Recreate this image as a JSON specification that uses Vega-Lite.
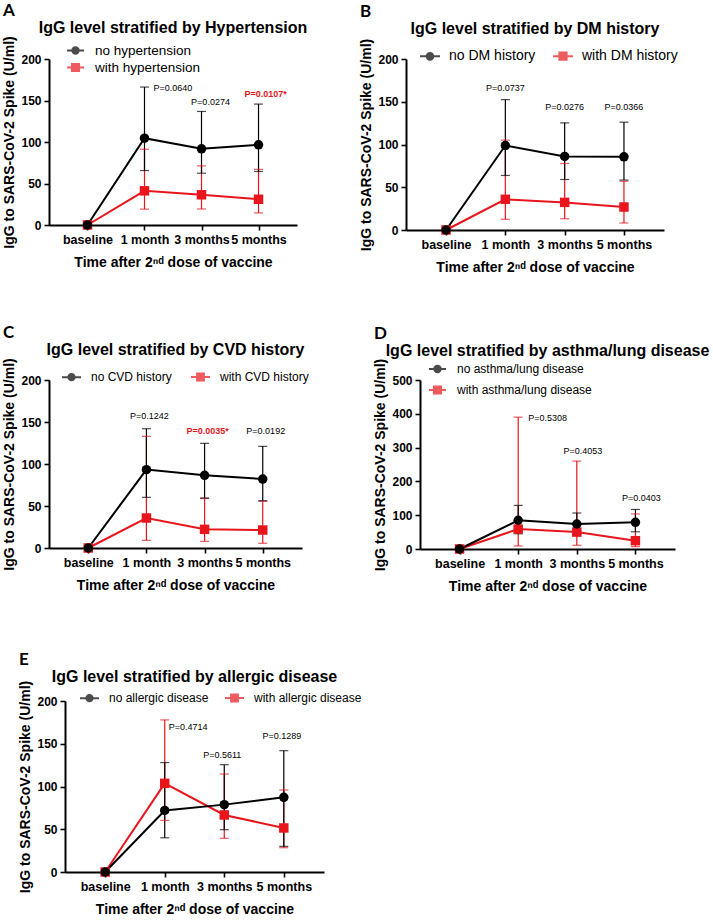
{
"$schema": "https://vega.github.io/schema/vega-lite/v6.json",
"background": "white",
"padding": {"left": 2, "top": 1, "right": 2, "bottom": 0},
"datasets": {
"A": [
{"group":"with hypertension","time":"baseline","mean":0,"lo":null,"hi":null},
{"group":"with hypertension","time":"1 month","mean":41.2,"lo":19.1,"hi":91.3},
{"group":"with hypertension","time":"3 months","mean":36.4,"lo":19.3,"hi":71.2},
{"group":"with hypertension","time":"5 months","mean":31,"lo":14.5,"hi":67},
{"group":"no hypertension","time":"baseline","mean":0,"lo":null,"hi":null},
{"group":"no hypertension","time":"1 month","mean":104.6,"lo":65.6,"hi":166.2},
{"group":"no hypertension","time":"3 months","mean":91.8,"lo":62.4,"hi":136.8},
{"group":"no hypertension","time":"5 months","mean":96.6,"lo":64.5,"hi":145.7}
],
"pA": [
{"time":"1 month","y":165,"label":"P=0.0640","sig":false},
{"time":"3 months","y":148,"label":"P=0.0274","sig":false},
{"time":"5 months","y":158,"label":"P=0.0107*","sig":true}
],
"B": [
{"group":"with DM history","time":"baseline","mean":0,"lo":null,"hi":null},
{"group":"with DM history","time":"1 month","mean":35.9,"lo":12.5,"hi":105.1},
{"group":"with DM history","time":"3 months","mean":32.3,"lo":13.2,"hi":77.8},
{"group":"with DM history","time":"5 months","mean":26.9,"lo":8.2,"hi":57},
{"group":"no DM history","time":"baseline","mean":0,"lo":null,"hi":null},
{"group":"no DM history","time":"1 month","mean":98.8,"lo":63.8,"hi":152.5},
{"group":"no DM history","time":"3 months","mean":86,"lo":59.1,"hi":125.3},
{"group":"no DM history","time":"5 months","mean":85.6,"lo":58.4,"hi":126.1}
],
"pB": [
{"time":"1 month","y":166,"label":"P=0.0737","sig":false},
{"time":"3 months","y":144,"label":"P=0.0276","sig":false},
{"time":"5 months","y":144,"label":"P=0.0366","sig":false}
],
"C": [
{"group":"with CVD history","time":"baseline","mean":0,"lo":null,"hi":null},
{"group":"with CVD history","time":"1 month","mean":35.7,"lo":9.1,"hi":132.9},
{"group":"with CVD history","time":"3 months","mean":22.2,"lo":7.9,"hi":59},
{"group":"with CVD history","time":"5 months","mean":21.4,"lo":5.6,"hi":55.6},
{"group":"no CVD history","time":"baseline","mean":0,"lo":null,"hi":null},
{"group":"no CVD history","time":"1 month","mean":93.3,"lo":60.3,"hi":142},
{"group":"no CVD history","time":"3 months","mean":86.5,"lo":59.5,"hi":124.6},
{"group":"no CVD history","time":"5 months","mean":82.1,"lo":56.3,"hi":121}
],
"pC": [
{"time":"1 month","y":157,"label":"P=0.1242","sig":false},
{"time":"3 months","y":139,"label":"P=0.0035*","sig":true},
{"time":"5 months","y":139,"label":"P=0.0192","sig":false}
],
"D": [
{"group":"with asthma/lung disease","time":"baseline","mean":0,"lo":null,"hi":null},
{"group":"with asthma/lung disease","time":"1 month","mean":59,"lo":9,"hi":390},
{"group":"with asthma/lung disease","time":"3 months","mean":50,"lo":11,"hi":260},
{"group":"with asthma/lung disease","time":"5 months","mean":24.6,"lo":7,"hi":103.6},
{"group":"no asthma/lung disease","time":"baseline","mean":0,"lo":null,"hi":null},
{"group":"no asthma/lung disease","time":"1 month","mean":85,"lo":45,"hi":129},
{"group":"no asthma/lung disease","time":"3 months","mean":74,"lo":43,"hi":106.5},
{"group":"no asthma/lung disease","time":"5 months","mean":79,"lo":51,"hi":117}
],
"pD": [
{"time":"1 month","y":388,"label":"P=0.5308","sig":false},
{"time":"3 months","y":290,"label":"P=0.4053","sig":false},
{"time":"5 months","y":151,"label":"P=0.0403","sig":false}
],
"E": [
{"group":"with allergic disease","time":"baseline","mean":0,"lo":null,"hi":null},
{"group":"with allergic disease","time":"1 month","mean":103.7,"lo":60.4,"hi":177.9},
{"group":"with allergic disease","time":"3 months","mean":66.7,"lo":39.4,"hi":114.6},
{"group":"with allergic disease","time":"5 months","mean":51.5,"lo":28.4,"hi":95.9},
{"group":"no allergic disease","time":"baseline","mean":0,"lo":null,"hi":null},
{"group":"no allergic disease","time":"1 month","mean":72,"lo":40,"hi":128},
{"group":"no allergic disease","time":"3 months","mean":78.8,"lo":49.5,"hi":125.5},
{"group":"no allergic disease","time":"5 months","mean":87.3,"lo":30,"hi":141.9}
],
"pE": [
{"time":"1 month","y":170,"label":"P=0.4714","sig":false},
{"time":"3 months","y":137,"label":"P=0.5611","sig":false},
{"time":"5 months","y":159,"label":"P=0.1289","sig":false}
],
"empty": []
},
"resolve": {"scale": {"color": "independent", "shape": "independent", "stroke": "independent"}},
"spacing": 57,
"vconcat": [
{
"resolve": {"scale": {"color": "independent", "shape": "independent", "stroke": "independent"}},
"spacing": 48,
"vconcat": [
{
"resolve": {"scale": {"color": "independent", "shape": "independent", "stroke": "independent"}},
"spacing": 51,
"hconcat": [
{
"title": {"text": "A", "anchor": "start", "font": "Lato", "fontSize": 17, "fontWeight": "bold", "offset": 0},
"resolve": {"scale": {"color": "independent", "shape": "independent", "stroke": "independent"}},
"vconcat": [{
"width": 248, "height": 166,
"title": {"text": "IgG level stratified by Hypertension", "frame": "group", "offset": 0},
"data": {"name": "A"},
"layer": [
{"mark": {"type": "rule", "strokeWidth": 1.2},
 "encoding": {
  "x": {"field": "time", "type": "ordinal", "title": "Time after 2ⁿᵈ dose of vaccine", "scale": {"type": "point", "domain": ["baseline","1 month","3 months","5 months"], "padding": 0.675}},
  "y": {"field": "lo", "type": "quantitative", "title": "IgG to SARS-CoV-2 Spike (U/ml)", "scale": {"domain": [0,200], "nice": false}, "axis": {"values": [0,50,100,150,200]}},
  "y2": {"field": "hi"},
  "color": {"field": "group", "type": "nominal", "scale": {"domain": ["no hypertension","with hypertension"], "range": ["black","#e8161c"]}}}},
{"mark": {"type": "tick", "orient": "horizontal", "size": 9, "thickness": 1.2},
 "encoding": {
  "x": {"field": "time", "type": "ordinal", "title": "Time after 2ⁿᵈ dose of vaccine"},
  "y": {"field": "hi", "type": "quantitative", "title": "IgG to SARS-CoV-2 Spike (U/ml)", "axis": {"values": [0,50,100,150,200]}},
  "color": {"field": "group", "type": "nominal"}}},
{"mark": {"type": "tick", "orient": "horizontal", "size": 9, "thickness": 1.2},
 "encoding": {
  "x": {"field": "time", "type": "ordinal", "title": "Time after 2ⁿᵈ dose of vaccine"},
  "y": {"field": "lo", "type": "quantitative", "title": "IgG to SARS-CoV-2 Spike (U/ml)", "axis": {"values": [0,50,100,150,200]}},
  "color": {"field": "group", "type": "nominal"}}},
{"mark": {"type": "line", "strokeWidth": 2},
 "encoding": {
  "x": {"field": "time", "type": "ordinal", "title": "Time after 2ⁿᵈ dose of vaccine"},
  "y": {"field": "mean", "type": "quantitative", "title": "IgG to SARS-CoV-2 Spike (U/ml)", "axis": {"values": [0,50,100,150,200]}},
  "order": {"value": null},
  "color": {"field": "group", "type": "nominal"}}},
{"transform": [{"filter": "indexof(datum.group,'with')===0"}],
 "mark": {"type": "point", "filled": true, "opacity": 1, "size": 90, "shape": "square"},
 "encoding": {
  "x": {"field": "time", "type": "ordinal", "title": "Time after 2ⁿᵈ dose of vaccine"},
  "y": {"field": "mean", "type": "quantitative", "title": "IgG to SARS-CoV-2 Spike (U/ml)", "axis": {"values": [0,50,100,150,200]}},
  "color": {"field": "group", "type": "nominal"}}},
{"transform": [{"filter": "indexof(datum.group,'no ')===0"}],
 "mark": {"type": "point", "filled": true, "opacity": 1, "size": 90, "shape": "circle"},
 "encoding": {
  "x": {"field": "time", "type": "ordinal", "title": "Time after 2ⁿᵈ dose of vaccine"},
  "y": {"field": "mean", "type": "quantitative", "title": "IgG to SARS-CoV-2 Spike (U/ml)", "axis": {"values": [0,50,100,150,200]}},
  "color": {"field": "group", "type": "nominal"}}},
{"transform": [{"filter": "false"}],
 "mark": {"type": "point", "filled": true, "opacity": 1, "size": 289, "strokeWidth": 2},
 "encoding": {
  "color": {"field": "group", "type": "nominal", "legend": {"title": null, "orient": "none", "legendX": 17, "legendY": -18, "direction": "vertical", "labelFontSize": 13.5, "labelOffset": 10, "rowPadding": -1, "symbolSize": 289, "symbolStrokeWidth": 2, "symbolOpacity": 1}},
  "stroke": {"field": "group", "type": "nominal", "scale": {"domain": ["no hypertension","with hypertension"], "range": ["black","#e8161c"]}, "legend": {"title": null, "orient": "none", "legendX": 17, "legendY": -18, "direction": "vertical", "labelFontSize": 13.5, "labelOffset": 10, "rowPadding": -1, "symbolSize": 289, "symbolStrokeWidth": 2, "symbolOpacity": 1}},
  "shape": {"field": "group", "type": "nominal", "scale": {"domain": ["no hypertension","with hypertension"], "range": ["M-1,0H1M-0.38,0A0.38,0.38,0,1,1,0.38,0A0.38,0.38,0,1,1,-0.38,0Z","M-1,0H1M-0.42,-0.42H0.42V0.42H-0.42Z"]}, "legend": {"title": null, "orient": "none", "legendX": 17, "legendY": -18, "direction": "vertical", "labelFontSize": 13.5, "labelOffset": 10, "rowPadding": -1, "symbolSize": 289, "symbolStrokeWidth": 2, "symbolOpacity": 1}}}},
{"data": {"name": "pA"}, "transform": [{"filter": "datum.time==='1 month'"}],
 "mark": {"type": "text", "align": "left", "dx": 9, "fontSize": 9, "color": "black"},
 "encoding": {
  "x": {"field": "time", "type": "ordinal", "title": "Time after 2ⁿᵈ dose of vaccine"},
  "y": {"field": "y", "type": "quantitative", "title": "IgG to SARS-CoV-2 Spike (U/ml)", "axis": {"values": [0,50,100,150,200]}},
  "text": {"field": "label"}}},
{"data": {"name": "pA"}, "transform": [{"filter": "datum.time!=='1 month' && !datum.sig"}],
 "mark": {"type": "text", "align": "center", "dx": 9, "fontSize": 9, "color": "black"},
 "encoding": {
  "x": {"field": "time", "type": "ordinal", "title": "Time after 2ⁿᵈ dose of vaccine"},
  "y": {"field": "y", "type": "quantitative", "title": "IgG to SARS-CoV-2 Spike (U/ml)", "axis": {"values": [0,50,100,150,200]}},
  "text": {"field": "label"}}},
{"data": {"name": "pA"}, "transform": [{"filter": "datum.sig"}],
 "mark": {"type": "text", "align": "center", "dx": 7, "fontSize": 9, "fontWeight": "bold", "color": "#e8161c"},
 "encoding": {
  "x": {"field": "time", "type": "ordinal", "title": "Time after 2ⁿᵈ dose of vaccine"},
  "y": {"field": "y", "type": "quantitative", "title": "IgG to SARS-CoV-2 Spike (U/ml)", "axis": {"values": [0,50,100,150,200]}},
  "text": {"field": "label"}}}
]
}]
},
{
"title": {"text": "B", "anchor": "start", "font": "Lato", "fontSize": 17, "fontWeight": "bold", "offset": 0},
"resolve": {"scale": {"color": "independent", "shape": "independent", "stroke": "independent"}},
"vconcat": [{
"width": 258, "height": 171,
"title": {"text": "IgG level stratified by DM history", "frame": "group", "offset": 1},
"data": {"name": "B"},
"layer": [
{"mark": {"type": "rule", "strokeWidth": 1.2},
 "encoding": {
  "x": {"field": "time", "type": "ordinal", "title": "Time after 2ⁿᵈ dose of vaccine", "scale": {"type": "point", "domain": ["baseline","1 month","3 months","5 months"], "padding": 0.675}},
  "y": {"field": "lo", "type": "quantitative", "title": "IgG to SARS-CoV-2 Spike (U/ml)", "scale": {"domain": [0,200], "nice": false}, "axis": {"values": [0,50,100,150,200]}},
  "y2": {"field": "hi"},
  "color": {"field": "group", "type": "nominal", "scale": {"domain": ["no DM history","with DM history"], "range": ["black","#e8161c"]}}}},
{"mark": {"type": "tick", "orient": "horizontal", "size": 9, "thickness": 1.2},
 "encoding": {
  "x": {"field": "time", "type": "ordinal", "title": "Time after 2ⁿᵈ dose of vaccine"},
  "y": {"field": "hi", "type": "quantitative", "title": "IgG to SARS-CoV-2 Spike (U/ml)", "axis": {"values": [0,50,100,150,200]}},
  "color": {"field": "group", "type": "nominal"}}},
{"mark": {"type": "tick", "orient": "horizontal", "size": 9, "thickness": 1.2},
 "encoding": {
  "x": {"field": "time", "type": "ordinal", "title": "Time after 2ⁿᵈ dose of vaccine"},
  "y": {"field": "lo", "type": "quantitative", "title": "IgG to SARS-CoV-2 Spike (U/ml)", "axis": {"values": [0,50,100,150,200]}},
  "color": {"field": "group", "type": "nominal"}}},
{"mark": {"type": "line", "strokeWidth": 2},
 "encoding": {
  "x": {"field": "time", "type": "ordinal", "title": "Time after 2ⁿᵈ dose of vaccine"},
  "y": {"field": "mean", "type": "quantitative", "title": "IgG to SARS-CoV-2 Spike (U/ml)", "axis": {"values": [0,50,100,150,200]}},
  "order": {"value": null},
  "color": {"field": "group", "type": "nominal"}}},
{"transform": [{"filter": "indexof(datum.group,'with')===0"}],
 "mark": {"type": "point", "filled": true, "opacity": 1, "size": 90, "shape": "square"},
 "encoding": {
  "x": {"field": "time", "type": "ordinal", "title": "Time after 2ⁿᵈ dose of vaccine"},
  "y": {"field": "mean", "type": "quantitative", "title": "IgG to SARS-CoV-2 Spike (U/ml)", "axis": {"values": [0,50,100,150,200]}},
  "color": {"field": "group", "type": "nominal"}}},
{"transform": [{"filter": "indexof(datum.group,'no ')===0"}],
 "mark": {"type": "point", "filled": true, "opacity": 1, "size": 90, "shape": "circle"},
 "encoding": {
  "x": {"field": "time", "type": "ordinal", "title": "Time after 2ⁿᵈ dose of vaccine"},
  "y": {"field": "mean", "type": "quantitative", "title": "IgG to SARS-CoV-2 Spike (U/ml)", "axis": {"values": [0,50,100,150,200]}},
  "color": {"field": "group", "type": "nominal"}}},
{"transform": [{"filter": "false"}],
 "mark": {"type": "point", "filled": true, "opacity": 1, "size": 400, "strokeWidth": 2},
 "encoding": {
  "color": {"field": "group", "type": "nominal", "legend": {"title": null, "orient": "none", "legendX": 13, "legendY": -14, "direction": "horizontal", "labelFontSize": 14, "labelOffset": 8, "columnPadding": 13, "symbolSize": 400, "symbolStrokeWidth": 2, "symbolOpacity": 1}},
  "stroke": {"field": "group", "type": "nominal", "scale": {"domain": ["no DM history","with DM history"], "range": ["black","#e8161c"]}, "legend": {"title": null, "orient": "none", "legendX": 13, "legendY": -14, "direction": "horizontal", "labelFontSize": 14, "labelOffset": 8, "columnPadding": 13, "symbolSize": 400, "symbolStrokeWidth": 2, "symbolOpacity": 1}},
  "shape": {"field": "group", "type": "nominal", "scale": {"domain": ["no DM history","with DM history"], "range": ["M-1,0H1M-0.33,0A0.33,0.33,0,1,1,0.33,0A0.33,0.33,0,1,1,-0.33,0Z","M-1,0H1M-0.36,-0.36H0.36V0.36H-0.36Z"]}, "legend": {"title": null, "orient": "none", "legendX": 13, "legendY": -14, "direction": "horizontal", "labelFontSize": 14, "labelOffset": 8, "columnPadding": 13, "symbolSize": 400, "symbolStrokeWidth": 2, "symbolOpacity": 1}}}},
{"data": {"name": "pB"},
 "mark": {"type": "text", "align": "center", "dx": 0, "fontSize": 9, "color": "black"},
 "encoding": {
  "x": {"field": "time", "type": "ordinal", "title": "Time after 2ⁿᵈ dose of vaccine"},
  "y": {"field": "y", "type": "quantitative", "title": "IgG to SARS-CoV-2 Spike (U/ml)", "axis": {"values": [0,50,100,150,200]}},
  "text": {"field": "label"}}}
]
}]
}
]
},
{
"resolve": {"scale": {"color": "independent", "shape": "independent", "stroke": "independent"}},
"spacing": 64,
"hconcat": [
{
"title": {"text": "C", "anchor": "start", "font": "Lato", "fontSize": 17, "fontWeight": "bold", "offset": 0},
"resolve": {"scale": {"color": "independent", "shape": "independent", "stroke": "independent"}},
"vconcat": [{
"width": 253, "height": 168,
"title": {"text": "IgG level stratified by CVD history", "frame": "group", "offset": 0},
"data": {"name": "C"},
"layer": [
{"mark": {"type": "rule", "strokeWidth": 1.2},
 "encoding": {
  "x": {"field": "time", "type": "ordinal", "title": "Time after 2ⁿᵈ dose of vaccine", "scale": {"type": "point", "domain": ["baseline","1 month","3 months","5 months"], "padding": 0.675}},
  "y": {"field": "lo", "type": "quantitative", "title": "IgG to SARS-CoV-2 Spike (U/ml)", "scale": {"domain": [0,200], "nice": false}, "axis": {"values": [0,50,100,150,200]}},
  "y2": {"field": "hi"},
  "color": {"field": "group", "type": "nominal", "scale": {"domain": ["no CVD history","with CVD history"], "range": ["black","#e8161c"]}}}},
{"mark": {"type": "tick", "orient": "horizontal", "size": 9, "thickness": 1.2},
 "encoding": {
  "x": {"field": "time", "type": "ordinal", "title": "Time after 2ⁿᵈ dose of vaccine"},
  "y": {"field": "hi", "type": "quantitative", "title": "IgG to SARS-CoV-2 Spike (U/ml)", "axis": {"values": [0,50,100,150,200]}},
  "color": {"field": "group", "type": "nominal"}}},
{"mark": {"type": "tick", "orient": "horizontal", "size": 9, "thickness": 1.2},
 "encoding": {
  "x": {"field": "time", "type": "ordinal", "title": "Time after 2ⁿᵈ dose of vaccine"},
  "y": {"field": "lo", "type": "quantitative", "title": "IgG to SARS-CoV-2 Spike (U/ml)", "axis": {"values": [0,50,100,150,200]}},
  "color": {"field": "group", "type": "nominal"}}},
{"mark": {"type": "line", "strokeWidth": 2},
 "encoding": {
  "x": {"field": "time", "type": "ordinal", "title": "Time after 2ⁿᵈ dose of vaccine"},
  "y": {"field": "mean", "type": "quantitative", "title": "IgG to SARS-CoV-2 Spike (U/ml)", "axis": {"values": [0,50,100,150,200]}},
  "order": {"value": null},
  "color": {"field": "group", "type": "nominal"}}},
{"transform": [{"filter": "indexof(datum.group,'with')===0"}],
 "mark": {"type": "point", "filled": true, "opacity": 1, "size": 90, "shape": "square"},
 "encoding": {
  "x": {"field": "time", "type": "ordinal", "title": "Time after 2ⁿᵈ dose of vaccine"},
  "y": {"field": "mean", "type": "quantitative", "title": "IgG to SARS-CoV-2 Spike (U/ml)", "axis": {"values": [0,50,100,150,200]}},
  "color": {"field": "group", "type": "nominal"}}},
{"transform": [{"filter": "indexof(datum.group,'no ')===0"}],
 "mark": {"type": "point", "filled": true, "opacity": 1, "size": 90, "shape": "circle"},
 "encoding": {
  "x": {"field": "time", "type": "ordinal", "title": "Time after 2ⁿᵈ dose of vaccine"},
  "y": {"field": "mean", "type": "quantitative", "title": "IgG to SARS-CoV-2 Spike (U/ml)", "axis": {"values": [0,50,100,150,200]}},
  "color": {"field": "group", "type": "nominal"}}},
{"transform": [{"filter": "false"}],
 "mark": {"type": "point", "filled": true, "opacity": 1, "size": 361, "strokeWidth": 2},
 "encoding": {
  "color": {"field": "group", "type": "nominal", "legend": {"title": null, "orient": "none", "legendX": 12, "legendY": -13.5, "direction": "horizontal", "labelFontSize": 12, "labelOffset": 9, "columnPadding": 15, "symbolSize": 361, "symbolStrokeWidth": 2, "symbolOpacity": 1}},
  "stroke": {"field": "group", "type": "nominal", "scale": {"domain": ["no CVD history","with CVD history"], "range": ["black","#e8161c"]}, "legend": {"title": null, "orient": "none", "legendX": 12, "legendY": -13.5, "direction": "horizontal", "labelFontSize": 12, "labelOffset": 9, "columnPadding": 15, "symbolSize": 361, "symbolStrokeWidth": 2, "symbolOpacity": 1}},
  "shape": {"field": "group", "type": "nominal", "scale": {"domain": ["no CVD history","with CVD history"], "range": ["M-1,0H1M-0.33,0A0.33,0.33,0,1,1,0.33,0A0.33,0.33,0,1,1,-0.33,0Z","M-1,0H1M-0.36,-0.36H0.36V0.36H-0.36Z"]}, "legend": {"title": null, "orient": "none", "legendX": 12, "legendY": -13.5, "direction": "horizontal", "labelFontSize": 12, "labelOffset": 9, "columnPadding": 15, "symbolSize": 361, "symbolStrokeWidth": 2, "symbolOpacity": 1}}}},
{"data": {"name": "pC"}, "transform": [{"filter": "!datum.sig"}],
 "mark": {"type": "text", "align": "center", "dx": 3, "fontSize": 9, "color": "black"},
 "encoding": {
  "x": {"field": "time", "type": "ordinal", "title": "Time after 2ⁿᵈ dose of vaccine"},
  "y": {"field": "y", "type": "quantitative", "title": "IgG to SARS-CoV-2 Spike (U/ml)", "axis": {"values": [0,50,100,150,200]}},
  "text": {"field": "label"}}},
{"data": {"name": "pC"}, "transform": [{"filter": "datum.sig"}],
 "mark": {"type": "text", "align": "center", "dx": 3, "fontSize": 9, "fontWeight": "bold", "color": "#e8161c"},
 "encoding": {
  "x": {"field": "time", "type": "ordinal", "title": "Time after 2ⁿᵈ dose of vaccine"},
  "y": {"field": "y", "type": "quantitative", "title": "IgG to SARS-CoV-2 Spike (U/ml)", "axis": {"values": [0,50,100,150,200]}},
  "text": {"field": "label"}}}
]
}]
},
{
"title": {"text": "D", "anchor": "start", "font": "Lato", "fontSize": 17, "fontWeight": "bold", "offset": 0},
"resolve": {"scale": {"color": "independent", "shape": "independent", "stroke": "independent"}},
"vconcat": [{
"width": 255, "height": 169,
"title": {"text": "IgG level stratified by asthma/lung disease", "frame": "group", "offset": -1},
"data": {"name": "D"},
"layer": [
{"mark": {"type": "rule", "strokeWidth": 1.2},
 "encoding": {
  "x": {"field": "time", "type": "ordinal", "title": "Time after 2ⁿᵈ dose of vaccine", "scale": {"type": "point", "domain": ["baseline","1 month","3 months","5 months"], "padding": 0.675}},
  "y": {"field": "lo", "type": "quantitative", "title": "IgG to SARS-CoV-2 Spike (U/ml)", "scale": {"domain": [0,500], "nice": false}, "axis": {"values": [0,100,200,300,400,500]}},
  "y2": {"field": "hi"},
  "color": {"field": "group", "type": "nominal", "scale": {"domain": ["no asthma/lung disease","with asthma/lung disease"], "range": ["black","#e8161c"]}}}},
{"mark": {"type": "tick", "orient": "horizontal", "size": 9, "thickness": 1.2},
 "encoding": {
  "x": {"field": "time", "type": "ordinal", "title": "Time after 2ⁿᵈ dose of vaccine"},
  "y": {"field": "hi", "type": "quantitative", "title": "IgG to SARS-CoV-2 Spike (U/ml)", "axis": {"values": [0,100,200,300,400,500]}},
  "color": {"field": "group", "type": "nominal"}}},
{"mark": {"type": "tick", "orient": "horizontal", "size": 9, "thickness": 1.2},
 "encoding": {
  "x": {"field": "time", "type": "ordinal", "title": "Time after 2ⁿᵈ dose of vaccine"},
  "y": {"field": "lo", "type": "quantitative", "title": "IgG to SARS-CoV-2 Spike (U/ml)", "axis": {"values": [0,100,200,300,400,500]}},
  "color": {"field": "group", "type": "nominal"}}},
{"mark": {"type": "line", "strokeWidth": 2},
 "encoding": {
  "x": {"field": "time", "type": "ordinal", "title": "Time after 2ⁿᵈ dose of vaccine"},
  "y": {"field": "mean", "type": "quantitative", "title": "IgG to SARS-CoV-2 Spike (U/ml)", "axis": {"values": [0,100,200,300,400,500]}},
  "order": {"value": null},
  "color": {"field": "group", "type": "nominal"}}},
{"transform": [{"filter": "indexof(datum.group,'with')===0"}],
 "mark": {"type": "point", "filled": true, "opacity": 1, "size": 90, "shape": "square"},
 "encoding": {
  "x": {"field": "time", "type": "ordinal", "title": "Time after 2ⁿᵈ dose of vaccine"},
  "y": {"field": "mean", "type": "quantitative", "title": "IgG to SARS-CoV-2 Spike (U/ml)", "axis": {"values": [0,100,200,300,400,500]}},
  "color": {"field": "group", "type": "nominal"}}},
{"transform": [{"filter": "indexof(datum.group,'no ')===0"}],
 "mark": {"type": "point", "filled": true, "opacity": 1, "size": 90, "shape": "circle"},
 "encoding": {
  "x": {"field": "time", "type": "ordinal", "title": "Time after 2ⁿᵈ dose of vaccine"},
  "y": {"field": "mean", "type": "quantitative", "title": "IgG to SARS-CoV-2 Spike (U/ml)", "axis": {"values": [0,100,200,300,400,500]}},
  "color": {"field": "group", "type": "nominal"}}},
{"transform": [{"filter": "false"}],
 "mark": {"type": "point", "filled": true, "opacity": 1, "size": 289, "strokeWidth": 2},
 "encoding": {
  "color": {"field": "group", "type": "nominal", "legend": {"title": null, "orient": "none", "legendX": 8, "legendY": -20.5, "direction": "vertical", "labelFontSize": 12, "labelOffset": 10, "rowPadding": 4, "symbolSize": 289, "symbolStrokeWidth": 2, "symbolOpacity": 1}},
  "stroke": {"field": "group", "type": "nominal", "scale": {"domain": ["no asthma/lung disease","with asthma/lung disease"], "range": ["black","#e8161c"]}, "legend": {"title": null, "orient": "none", "legendX": 8, "legendY": -20.5, "direction": "vertical", "labelFontSize": 12, "labelOffset": 10, "rowPadding": 4, "symbolSize": 289, "symbolStrokeWidth": 2, "symbolOpacity": 1}},
  "shape": {"field": "group", "type": "nominal", "scale": {"domain": ["no asthma/lung disease","with asthma/lung disease"], "range": ["M-1,0H1M-0.38,0A0.38,0.38,0,1,1,0.38,0A0.38,0.38,0,1,1,-0.38,0Z","M-1,0H1M-0.42,-0.42H0.42V0.42H-0.42Z"]}, "legend": {"title": null, "orient": "none", "legendX": 8, "legendY": -20.5, "direction": "vertical", "labelFontSize": 12, "labelOffset": 10, "rowPadding": 4, "symbolSize": 289, "symbolStrokeWidth": 2, "symbolOpacity": 1}}}},
{"data": {"name": "pD"}, "transform": [{"filter": "datum.time==='1 month'"}],
 "mark": {"type": "text", "align": "left", "dx": 10, "fontSize": 9, "color": "black"},
 "encoding": {
  "x": {"field": "time", "type": "ordinal", "title": "Time after 2ⁿᵈ dose of vaccine"},
  "y": {"field": "y", "type": "quantitative", "title": "IgG to SARS-CoV-2 Spike (U/ml)", "axis": {"values": [0,100,200,300,400,500]}},
  "text": {"field": "label"}}},
{"data": {"name": "pD"}, "transform": [{"filter": "datum.time!=='1 month'"}],
 "mark": {"type": "text", "align": "center", "dx": 6, "fontSize": 9, "color": "black"},
 "encoding": {
  "x": {"field": "time", "type": "ordinal", "title": "Time after 2ⁿᵈ dose of vaccine"},
  "y": {"field": "y", "type": "quantitative", "title": "IgG to SARS-CoV-2 Spike (U/ml)", "axis": {"values": [0,100,200,300,400,500]}},
  "text": {"field": "label"}}}
]
}]
}
]
}
]
},
{
"resolve": {"scale": {"color": "independent", "shape": "independent", "stroke": "independent"}},
"spacing": -32,
"hconcat": [
{"width": 1, "height": 1, "data": {"name": "empty"}, "mark": {"type": "point"}},
{
"title": {"text": "E", "anchor": "start", "font": "Lato", "fontSize": 17, "fontWeight": "bold", "offset": 0},
"resolve": {"scale": {"color": "independent", "shape": "independent", "stroke": "independent"}},
"vconcat": [{
"width": 259, "height": 171,
"title": {"text": "IgG level stratified by allergic disease", "frame": "group", "offset": -5},
"data": {"name": "E"},
"layer": [
{"mark": {"type": "rule", "strokeWidth": 1.2},
 "encoding": {
  "x": {"field": "time", "type": "ordinal", "title": "Time after 2ⁿᵈ dose of vaccine", "scale": {"type": "point", "domain": ["baseline","1 month","3 months","5 months"], "padding": 0.675}},
  "y": {"field": "lo", "type": "quantitative", "title": "IgG to SARS-CoV-2 Spike (U/ml)", "scale": {"domain": [0,200], "nice": false}, "axis": {"values": [0,50,100,150,200]}},
  "y2": {"field": "hi"},
  "color": {"field": "group", "type": "nominal", "scale": {"domain": ["no allergic disease","with allergic disease"], "range": ["black","#e8161c"]}}}},
{"mark": {"type": "tick", "orient": "horizontal", "size": 9, "thickness": 1.2},
 "encoding": {
  "x": {"field": "time", "type": "ordinal", "title": "Time after 2ⁿᵈ dose of vaccine"},
  "y": {"field": "hi", "type": "quantitative", "title": "IgG to SARS-CoV-2 Spike (U/ml)", "axis": {"values": [0,50,100,150,200]}},
  "color": {"field": "group", "type": "nominal"}}},
{"mark": {"type": "tick", "orient": "horizontal", "size": 9, "thickness": 1.2},
 "encoding": {
  "x": {"field": "time", "type": "ordinal", "title": "Time after 2ⁿᵈ dose of vaccine"},
  "y": {"field": "lo", "type": "quantitative", "title": "IgG to SARS-CoV-2 Spike (U/ml)", "axis": {"values": [0,50,100,150,200]}},
  "color": {"field": "group", "type": "nominal"}}},
{"mark": {"type": "line", "strokeWidth": 2},
 "encoding": {
  "x": {"field": "time", "type": "ordinal", "title": "Time after 2ⁿᵈ dose of vaccine"},
  "y": {"field": "mean", "type": "quantitative", "title": "IgG to SARS-CoV-2 Spike (U/ml)", "axis": {"values": [0,50,100,150,200]}},
  "order": {"value": null},
  "color": {"field": "group", "type": "nominal"}}},
{"transform": [{"filter": "indexof(datum.group,'with')===0"}],
 "mark": {"type": "point", "filled": true, "opacity": 1, "size": 90, "shape": "square"},
 "encoding": {
  "x": {"field": "time", "type": "ordinal", "title": "Time after 2ⁿᵈ dose of vaccine"},
  "y": {"field": "mean", "type": "quantitative", "title": "IgG to SARS-CoV-2 Spike (U/ml)", "axis": {"values": [0,50,100,150,200]}},
  "color": {"field": "group", "type": "nominal"}}},
{"transform": [{"filter": "indexof(datum.group,'no ')===0"}],
 "mark": {"type": "point", "filled": true, "opacity": 1, "size": 90, "shape": "circle"},
 "encoding": {
  "x": {"field": "time", "type": "ordinal", "title": "Time after 2ⁿᵈ dose of vaccine"},
  "y": {"field": "mean", "type": "quantitative", "title": "IgG to SARS-CoV-2 Spike (U/ml)", "axis": {"values": [0,50,100,150,200]}},
  "color": {"field": "group", "type": "nominal"}}},
{"transform": [{"filter": "false"}],
 "mark": {"type": "point", "filled": true, "opacity": 1, "size": 361, "strokeWidth": 2},
 "encoding": {
  "color": {"field": "group", "type": "nominal", "legend": {"title": null, "orient": "none", "legendX": 14, "legendY": -13.5, "direction": "horizontal", "labelFontSize": 12, "labelOffset": 9, "columnPadding": 12, "symbolSize": 361, "symbolStrokeWidth": 2, "symbolOpacity": 1}},
  "stroke": {"field": "group", "type": "nominal", "scale": {"domain": ["no allergic disease","with allergic disease"], "range": ["black","#e8161c"]}, "legend": {"title": null, "orient": "none", "legendX": 14, "legendY": -13.5, "direction": "horizontal", "labelFontSize": 12, "labelOffset": 9, "columnPadding": 12, "symbolSize": 361, "symbolStrokeWidth": 2, "symbolOpacity": 1}},
  "shape": {"field": "group", "type": "nominal", "scale": {"domain": ["no allergic disease","with allergic disease"], "range": ["M-1,0H1M-0.33,0A0.33,0.33,0,1,1,0.33,0A0.33,0.33,0,1,1,-0.33,0Z","M-1,0H1M-0.36,-0.36H0.36V0.36H-0.36Z"]}, "legend": {"title": null, "orient": "none", "legendX": 14, "legendY": -13.5, "direction": "horizontal", "labelFontSize": 12, "labelOffset": 9, "columnPadding": 12, "symbolSize": 361, "symbolStrokeWidth": 2, "symbolOpacity": 1}}}},
{"data": {"name": "pE"}, "transform": [{"filter": "datum.time==='1 month'"}],
 "mark": {"type": "text", "align": "left", "dx": 4, "fontSize": 9, "color": "black"},
 "encoding": {
  "x": {"field": "time", "type": "ordinal", "title": "Time after 2ⁿᵈ dose of vaccine"},
  "y": {"field": "y", "type": "quantitative", "title": "IgG to SARS-CoV-2 Spike (U/ml)", "axis": {"values": [0,50,100,150,200]}},
  "text": {"field": "label"}}},
{"data": {"name": "pE"}, "transform": [{"filter": "datum.time!=='1 month'"}],
 "mark": {"type": "text", "align": "center", "dx": -2, "fontSize": 9, "color": "black"},
 "encoding": {
  "x": {"field": "time", "type": "ordinal", "title": "Time after 2ⁿᵈ dose of vaccine"},
  "y": {"field": "y", "type": "quantitative", "title": "IgG to SARS-CoV-2 Spike (U/ml)", "axis": {"values": [0,50,100,150,200]}},
  "text": {"field": "label"}}}
]
}]
}
]
}
],
"config": {
  "font": "Liberation Sans",
  "view": {"stroke": null},
  "axis": {"domainColor": "black", "domainWidth": 2, "tickColor": "black", "tickWidth": 1.6, "tickSize": 5, "labelColor": "black", "labelFont": "Liberation Sans", "labelFontWeight": "bold", "labelFontSize": 12, "titleColor": "black", "titleFont": "Liberation Sans", "titleFontWeight": "bold", "grid": false, "labelPadding": 3},
  "axisX": {"labelFontSize": 12.5, "titleFontSize": 14, "titlePadding": 10, "labelAngle": 0},
  "axisY": {"titleFontSize": 14, "titlePadding": 4},
  "legend": {"labelFont": "Liberation Sans", "labelColor": "black", "padding": 0},
  "title": {"font": "Liberation Sans", "fontSize": 16, "fontWeight": "bold", "color": "black"}
}
}
